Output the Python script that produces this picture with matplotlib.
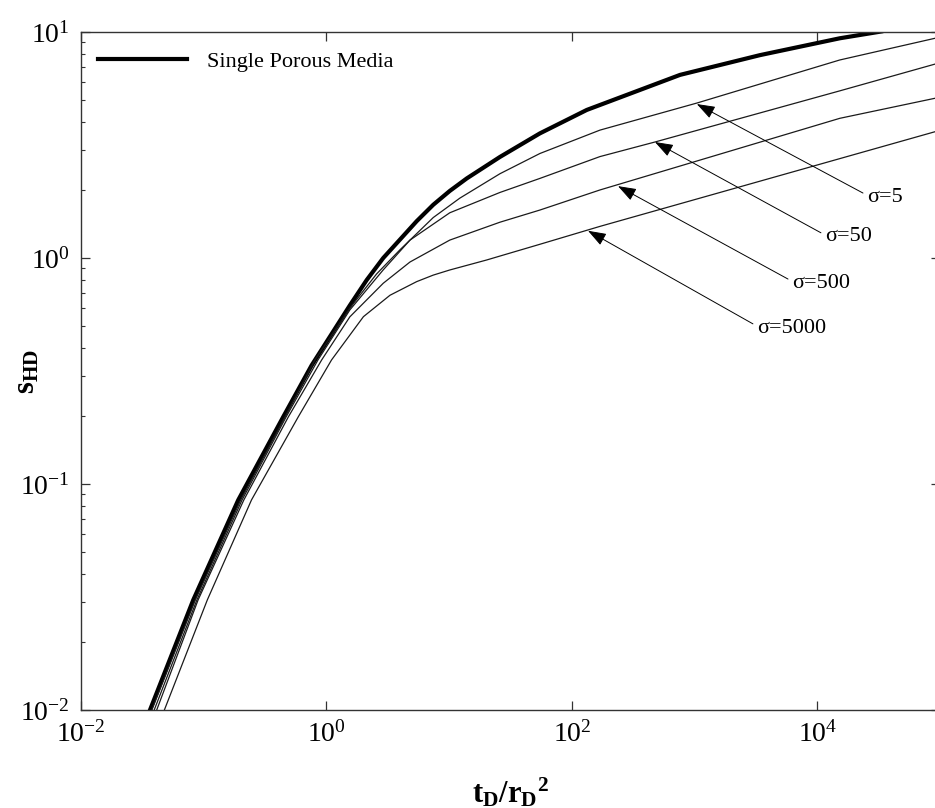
import numpy as np
import matplotlib.pyplot as plt
from matplotlib.ticker import NullLocator, LogLocator

# --- data (t_D/r_D^2, s_HD) ---
x_single = [0.0365, 0.0822, 0.191, 0.445, 0.757, 1.55, 2.13, 2.90, 5.43, 7.41,
            10.1, 13.9, 25.9, 54.8, 132, 759, 3400, 15200, 33000]
y_single = [0.01, 0.0307, 0.0849, 0.1985, 0.335, 0.617, 0.80, 1.0, 1.455, 1.72,
            1.98, 2.25, 2.80, 3.56, 4.52, 6.46, 7.9, 9.38, 10.05]

x_s5 = [0.0378, 0.0855, 0.20, 0.46, 0.805, 1.55, 2.56, 3.97, 7.41, 12.2,
        25.9, 54.8, 169, 1043, 15200, 90600]
y_s5 = [0.01, 0.0307, 0.0849, 0.1985, 0.354, 0.60, 0.85, 1.087, 1.51, 1.84,
        2.36, 2.90, 3.68, 4.85, 7.52, 9.38]

x_s50 = [0.0395, 0.088, 0.205, 0.47, 0.853, 1.55, 2.90, 4.79, 10.1, 25.9,
         54.8, 169, 474, 15200, 90600]
y_s50 = [0.01, 0.0307, 0.0849, 0.1985, 0.354, 0.589, 0.886, 1.20, 1.585, 1.95,
         2.25, 2.81, 3.26, 5.49, 7.21]

x_s500 = [0.0414, 0.09, 0.212, 0.49, 0.914, 1.55, 2.90, 4.79, 10.1, 25.9,
          54.8, 169, 15200, 90600]
y_s500 = [0.01, 0.0307, 0.0849, 0.1985, 0.354, 0.549, 0.773, 0.96, 1.20, 1.44,
          1.63, 2.0, 4.15, 5.09]

x_s5000 = [0.0478, 0.107, 0.245, 0.59, 1.10, 2.0, 3.29, 5.43, 7.41, 10.1,
           20.2, 25.9, 54.8, 169, 90600]
y_s5000 = [0.01, 0.0307, 0.085, 0.1985, 0.354, 0.55, 0.684, 0.786, 0.84, 0.885,
           0.98, 1.02, 1.15, 1.38, 3.62]

sigma_labels = ['σ=5', 'σ=50', 'σ=500', 'σ=5000']
x_ticks = [1e-2, 1e0, 1e2, 1e4]

# --- fonts (Times-like) ---
plt.rcParams['font.family'] = 'Liberation Serif'
plt.rcParams['mathtext.fontset'] = 'custom'
plt.rcParams['mathtext.rm'] = 'Liberation Serif'
plt.rcParams['mathtext.it'] = 'Liberation Serif:italic'
plt.rcParams['mathtext.bf'] = 'Liberation Serif:bold'

fig = plt.figure(figsize=(9.35, 8.08), dpi=100)
ax = fig.add_axes([0.0866, 0.1213, 0.919, 0.8391])

ax.plot(x_single, y_single, color='black', lw=3.0, label='Single Porous Media')
thin = [(x_s5, y_s5), (x_s50, y_s50), (x_s500, y_s500), (x_s5000, y_s5000)]
for xs, ys in thin:
    ax.plot(xs, ys, color='#1a1a1a', lw=0.9)

ax.set_xscale('log')
ax.set_yscale('log')
ax.set_xlim(1e-2, 1e5)
ax.set_ylim(1e-2, 1e1)

ax.set_xticks(x_ticks)
ax.xaxis.set_minor_locator(NullLocator())
ax.yaxis.set_major_locator(LogLocator(base=10))
ax.yaxis.set_minor_locator(LogLocator(base=10, subs=np.arange(2, 10)))

ax.tick_params(which='both', direction='in', top=True, right=True,
               labelsize=20, color='#333333')
ax.tick_params(which='major', length=6.5, width=0.9, pad=8)
ax.tick_params(which='minor', length=3, width=0.8)
for sp in ax.spines.values():
    sp.set_color('#333333')
    sp.set_linewidth(1.0)

ax.set_xlabel(r'$\mathbf{t_D/r_D{}^{2}}$', fontsize=22, labelpad=20)
ax.set_ylabel(r'$\mathbf{s_{HD}}$', fontsize=22)
ax.yaxis.set_label_coords(-0.046, 0.5)

# arrows: tip on curve, text to the lower right
arrow_tips = [(1040, 4.8), (474, 3.26), (237, 2.08), (135, 1.32)]
text_pos = [(2.53e4, 1.86), (1.15e4, 1.24), (6200, 0.774), (3210, 0.49)]
for lab, tip, txt in zip(sigma_labels, arrow_tips, text_pos):
    ax.annotate(lab, xy=tip, xytext=txt, ha='left', va='center', fontsize=16,
                arrowprops=dict(arrowstyle='-|>,head_length=0.7,head_width=0.25',
                                color='black', lw=0.7, shrinkA=1, shrinkB=0,
                                relpos=(0, 0.6)))

ax.legend(loc='center left', bbox_to_anchor=(0.0198, 0.9558), frameon=False,
          fontsize=16, handlelength=4.0, handletextpad=0.9, borderpad=0,
          borderaxespad=0)

fig.savefig('out.png', dpi=100)
